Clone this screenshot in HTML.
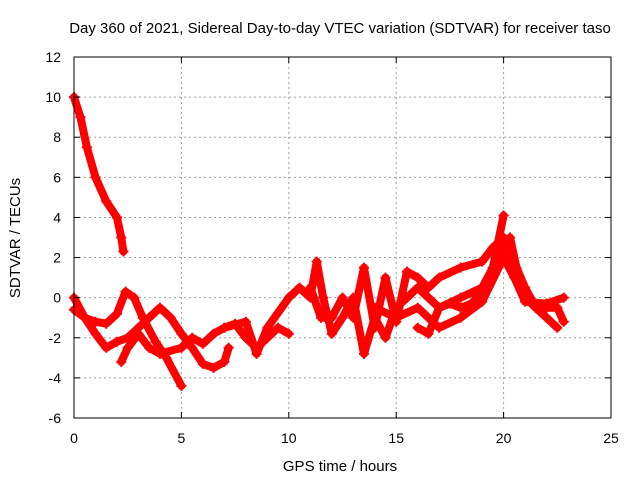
<!DOCTYPE html>
<html><head><meta charset="utf-8"><style>
body{margin:0;background:#fff}
svg{display:block;font-family:"Liberation Sans",sans-serif}
</style></head><body>
<svg id="chart" width="640" height="480" viewBox="0 0 640 480">
<rect width="640" height="480" fill="#fff"/>
<text x="340" y="33" font-size="15" text-anchor="middle">Day 360 of 2021, Sidereal Day-to-day VTEC variation (SDTVAR) for receiver taso</text>
<g id="grid"></g>
<g id="series"></g>
<rect x="74" y="57" width="537" height="361" fill="none" stroke="#000" stroke-width="1"/>
<g id="ticks"></g>
<text x="340" y="471" font-size="15" text-anchor="middle">GPS time / hours</text>
<text transform="translate(20,238) rotate(-90)" font-size="15" text-anchor="middle">SDTVAR / TECUs</text>
</svg>
<script>
const xTicks=[0,5,10,15,20,25];
const yTicks=[-6,-4,-2,0,2,4,6,8,10,12];
const trackA=[[0,10],[0.3,9],[0.6,7.5],[1,6],[1.5,4.8],[2,4],[2.2,3],[2.3,2.3]];
const trackB=[[0,0],[0.5,-1],[1,-1.2],[1.5,-1.3],[2,-0.8],[2.4,0.3],[2.8,0],[3.2,-1],[3.8,-2.2],[4.3,-3],[5,-4.4]];
const trackC=[[0,-0.6],[0.5,-1],[1,-1.8],[1.5,-2.5],[2,-2.2],[2.5,-2],[3,-1.5],[3.5,-1],[4,-0.5],[4.5,-1],[5,-1.8],[5.5,-2.5],[6,-3.3],[6.5,-3.5],[7,-3.2],[7.2,-2.5]];
const trackD=[[2.2,-3.2],[2.5,-2.5],[3,-1.8],[3.5,-2.5],[4,-2.8],[5,-2.5],[5.5,-2],[6,-2.3],[6.5,-1.8],[7,-1.5],[7.5,-1.3],[8,-2],[8.5,-2.5],[9,-2],[9.5,-1.5],[10,-1.8]];
const trackE=[[7,-1.5],[8,-1.2],[8.5,-2.8],[9,-1.5],[10,0],[10.5,0.5],[11,0],[11.3,1.8],[11.6,0],[12,-1.8],[12.5,-1],[13,0],[13.5,-2.8],[14,-1],[14.5,-2],[15,-0.5],[15.5,0],[16,0.5],[16.5,0],[17,-0.5],[18,0],[19,0.5],[19.5,1.5],[20,4.1]];
const trackF=[[11,0.5],[11.5,-1],[12,-1],[12.5,0],[13,-1],[13.5,1.5],[14,-1.5],[14.5,1],[15,-1.2],[15.5,1.3],[16,1],[16.5,0.5],[17,1],[18,1.5],[19,1.8],[19.5,2.5],[20,3],[20.5,1.5],[21,0],[21.5,-0.5],[22,-1],[22.5,-1.5]];
const trackG=[[16,-1.5],[16.5,-1.8],[17,-0.5],[17.5,-0.3],[18,-0.5],[18.5,-0.3],[19,0.3],[19.5,1.5],[20,2.5],[20.3,3],[20.6,1.5],[21,0.5],[21.5,-0.5],[22,-0.5],[22.5,-0.5],[22.8,-1.2]];
const trackH=[[14,-0.5],[15,-1],[16,-0.5],[17,-1.5],[18,-1],[19,-0.2],[20,2],[20.5,1],[21,-0.2],[22,-0.3],[22.8,0]];
const tracks=[trackA,trackB,trackC,trackD,trackE,trackF,trackG,trackH];
const X0=74,X1=611,Y0=418,Y1=57;
const sx=v=>X0+(v-0)/(25-0)*(X1-X0);
const sy=v=>Y0-(v+6)/(12+6)*(Y0-Y1);
const NS="http://www.w3.org/2000/svg";
const grid=document.getElementById('grid'),ticks=document.getElementById('ticks'),ser=document.getElementById('series');
function mk(tag,attrs,parent){const e=document.createElementNS(NS,tag);for(const k in attrs)e.setAttribute(k,attrs[k]);parent.appendChild(e);return e;}
xTicks.forEach(t=>{
  const x=sx(t);
  if(t>0&&t<25){const g=mk('line',{x1:x,x2:x,y1:Y1,y2:Y0,stroke:'#a0a0a0','stroke-dasharray':'2,3'},grid);
  
  }
  mk('line',{x1:x,x2:x,y1:Y0,y2:Y0-6,stroke:'#000'},ticks);
  mk('line',{x1:x,x2:x,y1:Y1,y2:Y1+6,stroke:'#000'},ticks);
  const l=mk('text',{x:x,y:443,'font-size':14,'text-anchor':'middle'},ticks);l.textContent=t;
  
  
});
yTicks.forEach(t=>{
  const y=sy(t);
  if(t>-6&&t<12){const g=mk('line',{x1:X0,x2:X1,y1:y,y2:y,stroke:'#a0a0a0','stroke-dasharray':'2,3'},grid);
  
  }
  mk('line',{x1:X0,x2:X0+6,y1:y,y2:y,stroke:'#000'},ticks);
  mk('line',{x1:X1,x2:X1-6,y1:y,y2:y,stroke:'#000'},ticks);
  const l=mk('text',{x:61,y:y+5,'font-size':14,'text-anchor':'end'},ticks);l.textContent=t;
  
  
});
tracks.forEach((tr,i)=>{
  const p=mk('polyline',{points:tr.map(d=>sx(d[0])+','+sy(d[1])).join(' '),fill:'none',stroke:'#ff0000','stroke-width':8,'stroke-linejoin':'round','stroke-linecap':'round'},ser);
  
  
  tr.forEach(d=>{
    const x=sx(d[0]),y=sy(d[1]);
    const m=mk('path',{d:`M${x-5},${y}h10M${x},${y-5}v10`,stroke:'#ff0000','stroke-width':2},ser);
    
    
  });
});
</script>
</body></html>
